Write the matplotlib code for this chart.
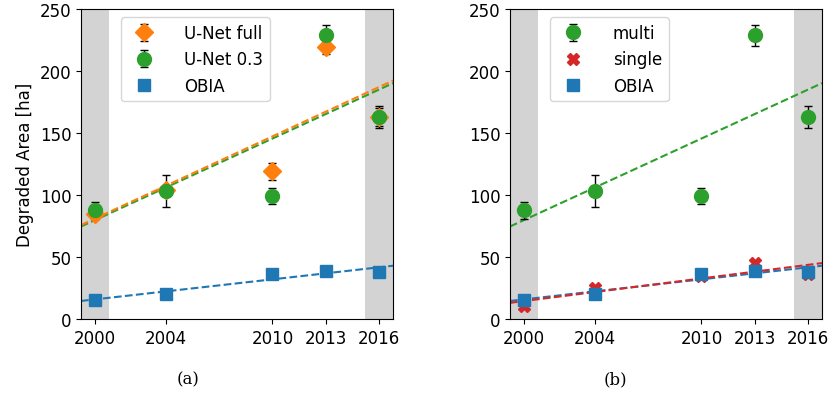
import numpy as np
import matplotlib
matplotlib.use('Agg')
import matplotlib.pyplot as plt

years = [2000, 2004, 2010, 2013, 2016]

unet_full = [84.5, 104, 119, 219.5, 163]
unet_full_err = [4, 4, 6.5, 5.5, 7]
unet_03 = [87.7, 103, 99, 229, 163]
unet_03_err = [7, 13, 6.5, 8.5, 9]
obia = [15.5, 20, 36.5, 38.8, 37.8]
single = [10.2, 24.7, 34.9, 45, 36]

xlim = (1999.2, 2016.8)
plt.rcParams['font.size'] = 12

fig = plt.figure(figsize=(8.34, 4.06), dpi=100)
ax1 = fig.add_axes([81/834, 86/406, 312/834, 310/406])
ax2 = fig.add_axes([510/834, 86/406, 312/834, 310/406])


def fit_line(ax, y, color):
    p = np.polyfit(years, y, 1)
    xx = np.array(xlim)
    ax.plot(xx, np.polyval(p, xx), '--', color=color, lw=1.5, zorder=2)


for ax in (ax1, ax2):
    ax.axvspan(xlim[0], 2000.8, color='lightgray', zorder=0, lw=0)
    ax.axvspan(2015.2, xlim[1], color='lightgray', zorder=0, lw=0)

# (a)
h1 = ax1.errorbar(years, unet_full, yerr=unet_full_err, fmt='D', color='tab:orange',
                  ecolor='black', capsize=3, elinewidth=1, ms=9, label='U-Net full', zorder=3)
h2 = ax1.errorbar(years, unet_03, yerr=unet_03_err, fmt='o', color='tab:green',
                  ecolor='black', capsize=3, elinewidth=1, ms=10, label='U-Net 0.3', zorder=3)
h3, = ax1.plot(years, obia, 's', color='tab:blue', ms=9, label='OBIA', zorder=3)
fit_line(ax1, unet_03, 'tab:green')
fit_line(ax1, unet_full, 'tab:orange')
fit_line(ax1, obia, 'tab:blue')
ax1.set_ylabel('Degraded Area [ha]')
ax1.legend(handles=[h1, h2, h3], loc='upper left', bbox_to_anchor=(0.1, 1.0),
           handletextpad=1.4)

# (b)
g1 = ax2.errorbar(years, unet_03, yerr=unet_03_err, fmt='o', color='tab:green',
                  ecolor='black', capsize=3, elinewidth=1, ms=10, label='multi', zorder=3)
g2, = ax2.plot(years, single, 'X', color='tab:red', ms=9, label='single', zorder=3)
g3, = ax2.plot(years, obia, 's', color='tab:blue', ms=9, label='OBIA', zorder=3)
fit_line(ax2, unet_03, 'tab:green')
fit_line(ax2, obia, 'tab:blue')
fit_line(ax2, single, 'tab:red')
ax2.legend(handles=[g1, g2, g3], loc='upper left', bbox_to_anchor=(0.1, 1.0),
           handletextpad=1.4)

for ax in (ax1, ax2):
    ax.set_xlim(*xlim)
    ax.set_ylim(0, 250)
    ax.set_xticks(years)
    ax.set_yticks([0, 50, 100, 150, 200, 250])

fig.text(188/834, 1 - 380/406, '(a)', ha='center', va='center',
         family='DejaVu Serif', fontsize=12)
fig.text(615/834, 1 - 380/406, '(b)', ha='center', va='center',
         family='DejaVu Serif', fontsize=12)

fig.savefig('out.png', dpi=100)
